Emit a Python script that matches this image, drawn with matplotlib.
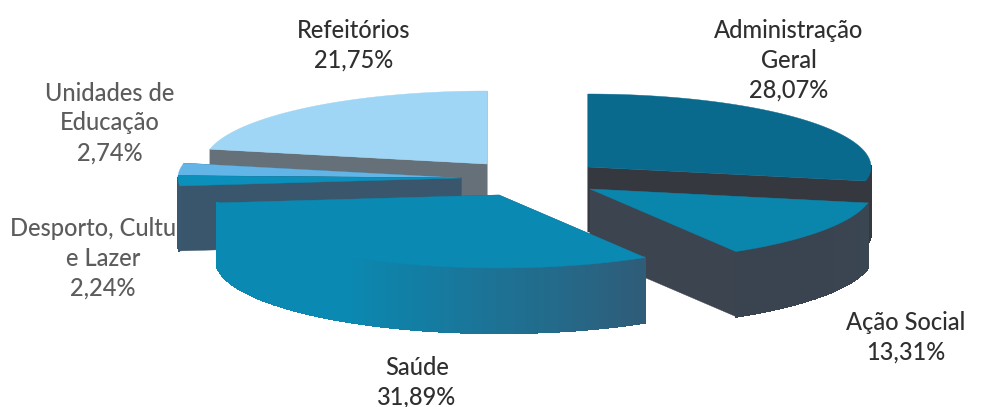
import numpy as np
import matplotlib
matplotlib.use("Agg")
import matplotlib.pyplot as plt
from matplotlib.colors import to_rgb
from matplotlib.patches import Polygon

categories = ["Administração\nGeral", "Ação Social", "Saúde",
              "Desporto, Cultura\ne Lazer", "Unidades de\nEducação", "Refeitórios"]
values = [28.07, 13.31, 31.89, 2.24, 2.74, 21.75]

# styling per slice, same order as categories
centers = [(588, 167), (590, 189), (499, 195), (461, 178), (461, 178), (487, 164)]
top_colors = ["#0a6a8e", "#0a86ac", "#0a89b2", "#0b8fbb", "#62b5e6", "#9fd5f5"]
cut_colors = ["#36383f", "#3c4450", "#2f5f7c", "#3a566c", "#3a566c", "#667078"]
side_from = ["#36383f", "#3a4652", "#2f5c78", "#3a5870", "#3a5870", "#667078"]
side_to = ["#36383f", "#3a4450", "#0a89b2", "#3a5870", "#3a5870", "#667078"]
label_xy = [(789, 60), (906, 337), (417, 382), (103, 258), (110, 123), (354, 45)]
label_colors = ["#2f2f2f", "#2f2f2f", "#2f2f2f", "#5c5c5c", "#5c5c5c", "#2f2f2f"]
draw_order = [5, 4, 3, 0, 1, 2]
RX, RY, DEPTH = 283, 73, 65
START_ANGLE = 90

fig = plt.figure(figsize=(9.81, 4.07), dpi=100)
ax = fig.add_axes([0, 0, 1, 1])
ax.set_xlim(0, 981)
ax.set_ylim(407, 0)
ax.axis("off")
plt.rcParams["font.family"] = ["Lato", "DejaVu Sans"]

fractions = np.array(values) / sum(values)
ends = START_ANGLE - np.cumsum(fractions) * 360
starts = np.concatenate([[START_ANGLE], ends[:-1]])


def rim(cx, cy, a0, a1, n=120):
    t = np.radians(np.linspace(a0, a1, n))
    return np.column_stack([cx + RX * np.cos(t), cy - RY * np.sin(t)])


for z, i in enumerate(draw_order):
    cx, cy = centers[i]
    arc = rim(cx, cy, starts[i], ends[i])
    base = 10 + z * 5
    shift = np.array([0, DEPTH])
    # cut faces
    for edge in (arc[0], arc[-1]):
        ax.add_patch(Polygon([(cx, cy), edge, edge + shift, (cx, cy + DEPTH)],
                             closed=True, fc=cut_colors[i], ec=cut_colors[i], lw=0.3, zorder=base))
    # outer wall, shaded along the rim
    c0, c1 = np.array(to_rgb(side_from[i])), np.array(to_rgb(side_to[i]))
    for k in range(len(arc) - 1):
        if arc[k + 1][1] < cy - 1:
            continue
        f = min(1.0, 1.8 * k / (len(arc) - 2))
        col = c0 + (c1 - c0) * f
        ax.add_patch(Polygon([arc[k], arc[k + 1], arc[k + 1] + shift, arc[k] + shift],
                             closed=True, fc=col, ec=col, lw=1.0, antialiased=False,
                             zorder=base + 1))
    # top face
    ax.add_patch(Polygon(np.vstack([[(cx, cy)], arc]), closed=True,
                         fc=top_colors[i], ec=top_colors[i], lw=0.3, zorder=base + 2))

for name, val, (x, y), col in zip(categories, values, label_xy, label_colors):
    text = f"{name}\n{val:.2f}%".replace(".", ",")
    ax.text(x, y, text, ha="center", va="center", color=col, fontsize=17,
            fontweight="medium", linespacing=1.36, zorder=5)

fig.savefig("out.png", dpi=100, facecolor="white")
